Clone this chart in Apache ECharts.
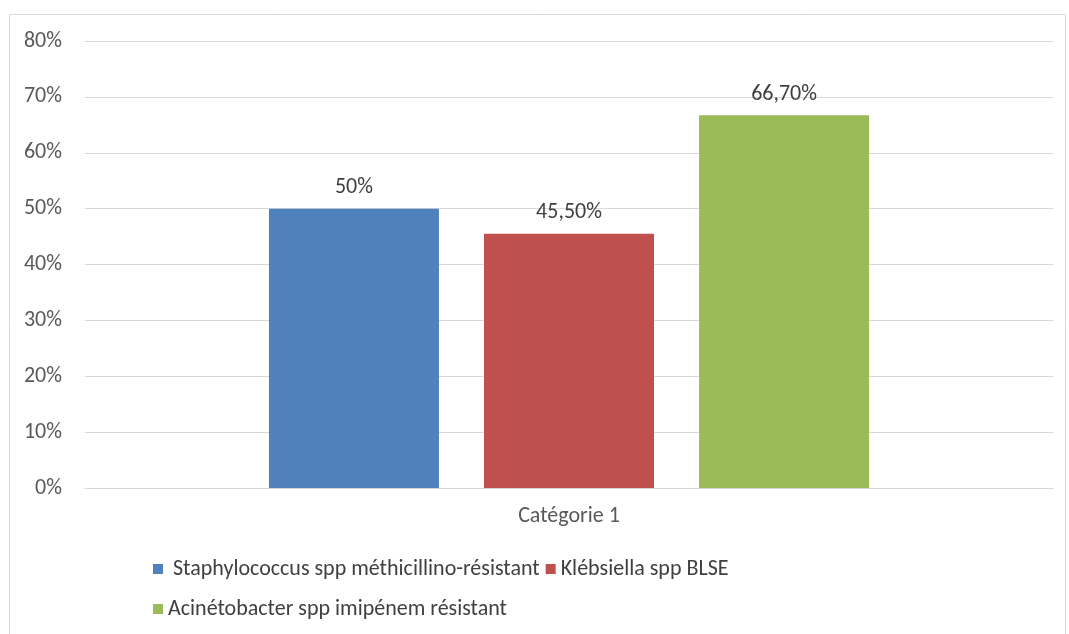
<!DOCTYPE html>
<html>
<head>
<meta charset="utf-8">
<script src="https://cdn.jsdelivr.net/npm/echarts@6/dist/echarts.min.js"></script>
<style>
  html, body { margin: 0; padding: 0; background: #fff; }
  #main { width: 1069px; height: 634px; }
</style>
</head>
<body>
<div id="main"></div>
<script>
; (function () {

    /* ====== données ====== */
    var categories = ['Catégorie 1'];
    var seriesNames = [
        'Staphylococcus spp méthicillino-résistant',
        'Klébsiella spp BLSE',
        'Acinétobacter spp imipénem résistant'
    ];
    var seriesValues = [[50], [45.5], [66.7]];
    var seriesColors = ['#4f81bd', '#c0504d', '#9bbb59'];
    var yTicks = [0, 10, 20, 30, 40, 50, 60, 70, 80];

    var font = "Carlito, 'Liberation Sans Narrow', 'Open Sans', sans-serif";
    var fs = 22;

    function pct(v) {
        return (v % 1 === 0 ? v : v.toFixed(2).replace('.', ',')) + '%';
    }

    var myChart = echarts.init(document.getElementById('main'));

    var series = seriesNames.map(function (name, i) {
        return {
            name: name,
            type: 'bar',
            barWidth: 170,
            barGap: '26.5%',
            itemStyle: { color: seriesColors[i] },
            label: {
                show: true,
                position: 'top',
                distance: 10,
                color: '#404040',
                fontSize: fs,
                fontFamily: font,
                formatter: function (p) { return pct(p.value); }
            },
            data: seriesValues[i]
        };
    });

    var legendCommon = {
        icon: 'rect',
        itemWidth: 10,
        itemHeight: 10,
        itemGap: 6,
        textStyle: { color: '#404040', fontSize: fs, fontFamily: font },
        formatter: function (name) {
            return name === seriesNames[0] ? ' ' + name : name;
        },
        selectedMode: false
    };

    var option = {
        animation: false,
        textStyle: { fontFamily: font },
        graphic: [{
            type: 'rect',
            shape: { x: 9.5, y: 14.5, width: 1056, height: 640 },
            style: { fill: 'none', stroke: '#d9d9d9', lineWidth: 1 },
            silent: true
        }],
        legend: [
            Object.assign({ left: 148, top: 553, data: seriesNames.slice(0, 2) }, legendCommon),
            Object.assign({ left: 148, top: 593, data: seriesNames.slice(2) }, legendCommon)
        ],
        grid: {
            left: 85,
            right: 16,
            top: 41,
            bottom: 146
        },
        xAxis: {
            type: 'category',
            data: categories,
            axisLine: { lineStyle: { color: '#d9d9d9' } },
            axisTick: { show: false },
            axisLabel: { color: '#595959', fontSize: fs, margin: 17, fontFamily: font }
        },
        yAxis: {
            type: 'value',
            min: yTicks[0],
            max: yTicks[yTicks.length - 1],
            interval: 10,
            axisLine: { show: false },
            axisTick: { show: false },
            splitLine: { lineStyle: { color: '#d9d9d9' } },
            axisLabel: {
                color: '#595959',
                fontSize: fs,
                margin: 23,
                fontFamily: font,
                formatter: function (v) { return v + '%'; }
            }
        },
        series: series
    };

    myChart.setOption(option);
}());
</script>
</body>
</html>
